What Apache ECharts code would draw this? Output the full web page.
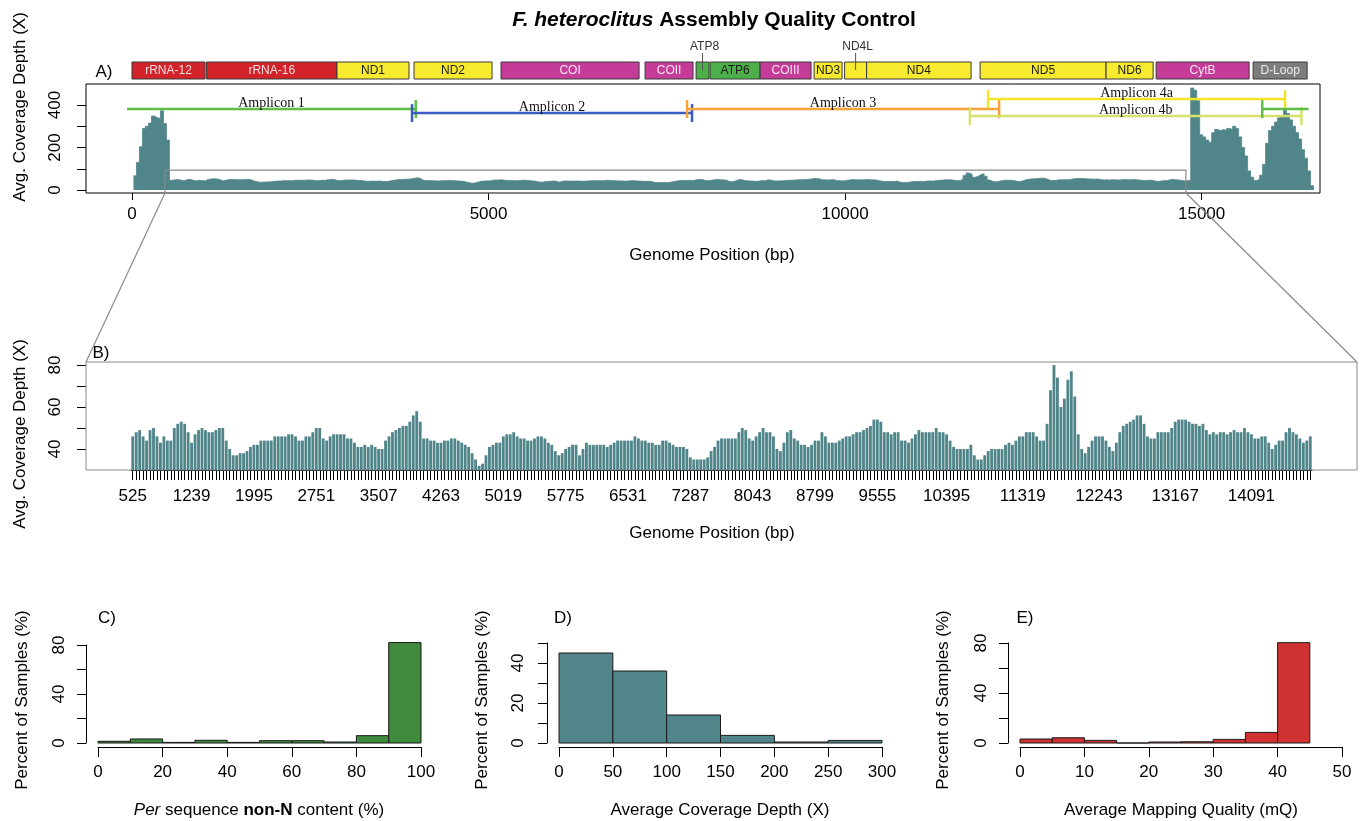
<!DOCTYPE html>
<html>
<head>
<meta charset="utf-8">
<title>F. heteroclitus Assembly Quality Control</title>
<script src="https://cdn.jsdelivr.net/npm/echarts@6/dist/echarts.min.js"></script>
<style>
  html, body { margin: 0; padding: 0; background: #fff; }
  #chart { width: 1369px; height: 821px; }
</style>
</head>
<body>
<div id="chart"></div>
<script>
// ---- gene map (bp) ----
const geneNames = ['rRNA-12', 'rRNA-16', 'ND1', 'ND2', 'COI', 'COII', 'ATP8', 'ATP6', 'COIII', 'ND3', 'ND4L', 'ND4', 'ND5', 'ND6', 'CytB', 'D-Loop']
const geneStart = [0, 1046, 2875, 3955, 5175, 7195, 7910, 8107, 8808, 9565, 9993, 10302, 11893, 13660, 14362, 15722]
const geneEnd = [1025, 2875, 3885, 5049, 7111, 7868, 8092, 8808, 9523, 9958, 10302, 11767, 13660, 14320, 15666, 16480]
const geneType = ['rRNA', 'rRNA', 'ND', 'ND', 'CO', 'CO', 'ATP', 'ATP', 'CO', 'ND', 'ND', 'ND', 'ND', 'ND', 'CO', 'DL']
const geneLabelAbove = ['ATP8', 'ND4L']

// ---- amplicons (bp, drawn at a depth level) ----
const ampliconNames = ['Amplicon 1', 'Amplicon 2', 'Amplicon 3', 'Amplicon 4a', 'Amplicon 4b', '']
const ampliconStart = [-70, 3927, 7784, 12005, 11750, 15850]
const ampliconEnd = [3980, 7854, 12160, 16170, 16400, 16500]
const ampliconLevel = [381, 362, 381, 428, 348, 381]

// ---- coverage, 42 bp bins ----
const binWidth = 42
const bFirstBin = 525
// bins before the zoomed window (panel A only)
const headCoverage = [67, 130, 204, 290, 300, 315, 348, 340, 337, 373, 313, 235]
// zoomed window, panel B (and middle of panel A)
const midCoverage = [
  46, 48, 49, 46, 44, 49, 50, 46, 43, 46,
  44, 44, 50, 52, 53, 52, 48, 43, 47, 49,
  50, 49, 48, 48, 49, 50, 50, 44, 40, 37,
  37, 38, 38, 39, 41, 42, 42, 44, 44, 44,
  44, 46, 46, 46, 46, 47, 47, 46, 44, 44,
  46, 46, 48, 50, 50, 45, 44, 46, 47, 47,
  47, 47, 45, 45, 43, 41, 41, 42, 41, 42,
  41, 40, 40, 44, 46, 48, 49, 50, 51, 51,
  53, 56, 58, 53, 45, 45, 44, 44, 43, 43,
  44, 44, 45, 45, 44, 43, 42, 41, 38, 35,
  32, 33, 37, 41, 42, 43, 43, 46, 47, 47,
  48, 46, 45, 45, 44, 44, 45, 46, 46, 45,
  43, 42, 39, 37, 38, 40, 41, 42, 42, 37,
  40, 43, 42, 42, 42, 42, 42, 41, 42, 43,
  44, 44, 44, 44, 44, 46, 45, 44, 44, 43,
  43, 42, 42, 44, 44, 43, 42, 41, 41, 41,
  40, 36, 35, 35, 35, 35, 36, 39, 41, 44,
  45, 45, 45, 45, 45, 48, 50, 49, 45, 44,
  46, 48, 50, 48, 48, 46, 40, 39, 43, 48,
  49, 45, 44, 42, 42, 41, 42, 44, 44, 48,
  46, 43, 43, 43, 44, 45, 46, 46, 47, 48,
  48, 49, 50, 51, 54, 54, 53, 48, 48, 47,
  48, 48, 44, 44, 43, 45, 47, 49, 48, 48,
  48, 48, 50, 48, 48, 47, 44, 41, 40, 40,
  40, 40, 42, 37, 35, 35, 37, 39, 40, 40,
  40, 40, 42, 43, 42, 44, 46, 46, 48, 48,
  48, 46, 44, 44, 52, 68, 80, 74, 60, 64,
  73, 77, 65, 47, 40, 38, 41, 44, 46, 46,
  46, 44, 41, 39, 43, 48, 51, 52, 53, 54,
  56, 56, 52, 46, 45, 45, 48, 48, 48, 48,
  50, 53, 54, 54, 54, 53, 52, 52, 51, 52,
  49, 47, 48, 47, 48, 48, 47, 48, 49, 48,
  48, 50, 48, 47, 45, 45, 46, 46, 43, 40,
  42, 44, 44, 48, 50, 48, 47, 45, 43, 44, 46
]
// bins after the zoomed window (panel A only)
const tailCoverage = [
  480, 470, 420, 260, 250, 235, 225, 270, 285, 280,
  285, 280, 290, 285, 300, 290, 250, 200, 160, 90,
  60, 45, 50, 70, 120, 220, 280, 300, 320, 340,
  350, 375, 360, 330, 300, 270, 240, 190, 150, 90, 20
]
const bTickLabels = [525, 1239, 1995, 2751, 3507, 4263, 5019, 5775, 6531, 7287, 8043, 8799, 9555, 10395, 11319, 12243, 13167, 14091]
const zoomWindow = [463, 14780, 94]

// ---- histograms ----
const cBins = [0, 10, 20, 30, 40, 50, 60, 70, 80, 90]
const cValues = [1.4, 3.3, 0.5, 2.2, 0.5, 1.9, 1.9, 0.8, 6, 82]
const dBins = [0, 50, 100, 150, 200, 250]
const dValues = [45, 36, 14, 3.8, 0.5, 1.3]
const eBins = [0, 5, 10, 15, 20, 25, 30, 35, 40]
const eValues = [3.2, 4.2, 2.1, 0, 0.8, 1, 2.9, 8.5, 80.3]

// ---- styles ----
const FONT = '"Liberation Sans", Arial, Helvetica, sans-serif'
const SERIF = '"Liberation Serif", "Times New Roman", serif'
const TEAL = '#508589'
const geneFill = { rRNA: '#d2232a', ND: '#f7ea2f', CO: '#c43c97', ATP: '#4daf4a', DL: '#7d7d7d' }
const geneText = { rRNA: '#f6dede', ND: '#1a1a1a', CO: '#fbe6f3', ATP: '#1a1a1a', DL: '#ececec' }
const ampColors = ['#5dbf45', '#3b5cbf', '#f6a33a', '#f2e32b', '#d6e06c', '#5dbf45']
const ampCaps = [[0, 1], [1, 1], [1, 1], [1, 1], [1, 1], [1, 0]]
const bFrame = { x: 86, y: 362, w: 1271, h: 108 }
const yAMin = -14

// build panel A step data from the bin arrays
const aCoverage = []
headCoverage.forEach((v, k) => aCoverage.push([bFirstBin - binWidth * (headCoverage.length - k), v]))
midCoverage.forEach((v, k) => aCoverage.push([bFirstBin + binWidth * k, v]))
const tailStart = bFirstBin + binWidth * midCoverage.length
tailCoverage.forEach((v, k) => aCoverage.push([tailStart + binWidth * k, v]))
aCoverage.push([tailStart + binWidth * tailCoverage.length, 0])

const bCategories = midCoverage.map((v, k) => String(bFirstBin + binWidth * k))

// histogram bars; custom series is not clipped, so the tallest bar may rise past the top tick like in R
const histItem = (width, color) => (params, api) => {
  const x0 = api.value(0)
  const p0 = api.coord([x0, api.value(1)])
  const p1 = api.coord([x0 + width, 0])
  return {
    type: 'rect',
    shape: { x: p0[0], y: p0[1], width: p1[0] - p0[0], height: p1[1] - p0[1] },
    style: { fill: color, stroke: '#1a1a1a', lineWidth: 1 }
  }
}

const tickStyle = { color: '#000', width: 1 }
const labelStyle = { color: '#000', fontSize: 17, fontFamily: FONT }
const plain = (v) => String(v)

const histY = (gridIndex, max, ticks, labels, margin) => ({
  gridIndex, type: 'value', min: 0, max, offset: 12,
  axisLine: { show: true, onZero: false, lineStyle: tickStyle },
  axisTick: { show: true, length: 9, customValues: ticks, lineStyle: tickStyle },
  axisLabel: { ...labelStyle, rotate: 90, margin, customValues: labels, formatter: plain },
  splitLine: { show: false }
})
const histX = (gridIndex, max, ticks) => ({
  gridIndex, type: 'value', min: 0, max, offset: 4,
  axisLine: { show: true, onZero: false, lineStyle: tickStyle },
  axisTick: { show: true, length: 10, customValues: ticks, lineStyle: tickStyle },
  axisLabel: { ...labelStyle, margin: 17, customValues: ticks, formatter: plain },
  splitLine: { show: false }
})

const titleText = (text, x, y, rotate, extra) => ({
  type: 'text', x, y, rotation: rotate ? Math.PI / 2 : 0,
  style: Object.assign({ text, fill: '#000', fontSize: 17, fontFamily: FONT, align: 'center', verticalAlign: 'middle' }, extra || {})
})

const chart = echarts.init(document.getElementById('chart'))

const option = {
  animation: false,
  backgroundColor: '#fff',
  grid: [
    { left: 86, top: 62, width: 1234, height: 17 },                                           // gene map
    { left: 86, top: 84, width: 1234, height: 109, show: true, borderColor: '#000', borderWidth: 1 }, // A
    { left: 131, top: 362, width: 1181, height: 108 },                                        // B
    { left: 98, top: 645, width: 323, height: 98 },                                           // C
    { left: 559, top: 643, width: 323, height: 100 },                                         // D
    { left: 1020, top: 643, width: 322, height: 100 }                                         // E
  ],
  xAxis: [
    { gridIndex: 0, type: 'value', min: -645, max: 16660, show: false },
    {
      gridIndex: 1, type: 'value', min: -645, max: 16660,
      axisLine: { show: false, onZero: false },
      axisTick: { show: true, length: 7, customValues: [0, 5000, 10000, 15000], lineStyle: tickStyle },
      axisLabel: { ...labelStyle, margin: 13, customValues: [0, 5000, 10000, 15000], formatter: plain },
      splitLine: { show: false }
    },
    {
      gridIndex: 2, type: 'category', data: bCategories, boundaryGap: true,
      axisLine: { show: true, onZero: false, lineStyle: tickStyle },
      axisTick: { show: true, length: 10, alignWithLabel: true, interval: 0, lineStyle: { color: '#000', width: 1 } },
      axisLabel: { ...labelStyle, margin: 18, interval: (idx, val) => bTickLabels.indexOf(+val) >= 0 },
      splitLine: { show: false }
    },
    histX(3, 100, [0, 20, 40, 60, 80, 100]),
    histX(4, 300, [0, 50, 100, 150, 200, 250, 300]),
    histX(5, 50, [0, 10, 20, 30, 40, 50])
  ],
  yAxis: [
    { gridIndex: 0, type: 'value', min: 0, max: 1, show: false },
    {
      gridIndex: 1, type: 'value', min: yAMin, max: 499,
      axisLine: { show: false, onZero: false },
      axisTick: { show: true, length: 9, customValues: [0, 100, 200, 300, 400], lineStyle: tickStyle },
      axisLabel: { ...labelStyle, rotate: 90, margin: 22, customValues: [0, 200, 400], formatter: plain },
      splitLine: { show: false }
    },
    {
      gridIndex: 2, type: 'value', min: 30, max: 81.43, offset: 45,
      axisLine: { show: false, onZero: false },
      axisTick: { show: true, length: 9, customValues: [40, 50, 60, 70, 80], lineStyle: tickStyle },
      axisLabel: { ...labelStyle, rotate: 90, margin: 22, customValues: [40, 60, 80], formatter: plain },
      splitLine: { show: false }
    },
    histY(3, 80, [0, 20, 40, 60, 80], [0, 40, 80], 18),
    histY(4, 50, [0, 10, 20, 30, 40, 50], [0, 20, 40], 20),
    histY(5, 80, [0, 20, 40, 60, 80], [0, 40, 80], 18)
  ],
  series: [
    {
      // gene boxes
      type: 'custom', xAxisIndex: 0, yAxisIndex: 0,
      data: geneNames.map((n, i) => [geneStart[i], geneEnd[i]]),
      encode: { x: [0, 1] },
      renderItem: (params, api) => {
        const i = params.dataIndex
        const s = api.coord([api.value(0), 1])
        const e = api.coord([api.value(1), 0])
        const t = geneType[i]
        const cx = (s[0] + e[0]) / 2
        const kids = [{
          type: 'rect',
          shape: { x: s[0], y: s[1], width: e[0] - s[0], height: e[1] - s[1] },
          style: { fill: geneFill[t], stroke: '#3a3a3a', lineWidth: 1 }
        }]
        if (geneLabelAbove.indexOf(geneNames[i]) >= 0) {
          kids.push({ type: 'line', shape: { x1: cx, y1: s[1] - 9, x2: cx, y2: s[1] + 8 }, style: { stroke: '#555', lineWidth: 1 } })
          kids.push({ type: 'text', x: cx + 2, y: s[1] - 15, style: { text: geneNames[i], fill: '#333', fontSize: 12, fontFamily: FONT, align: 'center', verticalAlign: 'middle' } })
        } else {
          kids.push({ type: 'text', x: cx, y: (s[1] + e[1]) / 2, style: { text: geneNames[i], fill: geneText[t], fontSize: 12, fontFamily: FONT, align: 'center', verticalAlign: 'middle' } })
        }
        return { type: 'group', children: kids }
      }
    },
    {
      // panel A coverage
      type: 'line', xAxisIndex: 1, yAxisIndex: 1, data: aCoverage,
      step: 'end', symbol: 'none', z: 2,
      lineStyle: { color: TEAL, width: 0.8 },
      areaStyle: { color: TEAL, opacity: 1 }
    },
    {
      // amplicons
      type: 'custom', xAxisIndex: 1, yAxisIndex: 1, z: 4,
      data: ampliconNames.map((n, i) => [ampliconStart[i], ampliconEnd[i], ampliconLevel[i]]),
      encode: { x: [0, 1], y: 2 },
      renderItem: (params, api) => {
        const i = params.dataIndex
        const a = api.coord([api.value(0), api.value(2)])
        const b = api.coord([api.value(1), api.value(2)])
        const col = ampColors[i]
        const kids = [{ type: 'line', shape: { x1: a[0], y1: a[1], x2: b[0], y2: b[1] }, style: { stroke: col, lineWidth: 2.5 } }]
        if (ampCaps[i][0]) kids.push({ type: 'line', shape: { x1: a[0], y1: a[1] - 9, x2: a[0], y2: a[1] + 9 }, style: { stroke: col, lineWidth: 2.5 } })
        if (ampCaps[i][1]) kids.push({ type: 'line', shape: { x1: b[0], y1: b[1] - 9, x2: b[0], y2: b[1] + 9 }, style: { stroke: col, lineWidth: 2.5 } })
        if (ampliconNames[i]) {
          kids.push({ type: 'text', x: (a[0] + b[0]) / 2, y: a[1] + 1, z2: 10, style: { text: ampliconNames[i], fill: '#111', fontSize: 14, fontFamily: SERIF, align: 'center', verticalAlign: 'bottom' } })
        }
        return { type: 'group', children: kids }
      }
    },
    {
      // zoom window in A and its connectors to panel B's frame
      type: 'custom', xAxisIndex: 1, yAxisIndex: 1, z: 3,
      data: [zoomWindow],
      encode: { x: [0, 1], y: 2 },
      renderItem: (params, api) => {
        const p0 = api.coord([api.value(0), api.value(2)])
        const p1 = api.coord([api.value(1), yAMin])
        const st = { stroke: '#8a8a8a', lineWidth: 1.2, fill: null }
        return {
          type: 'group',
          children: [
            { type: 'rect', shape: { x: p0[0], y: p0[1], width: p1[0] - p0[0], height: p1[1] - p0[1] }, style: st },
            { type: 'line', shape: { x1: p0[0], y1: p1[1], x2: bFrame.x, y2: bFrame.y }, style: st },
            { type: 'line', shape: { x1: p1[0], y1: p1[1], x2: bFrame.x + bFrame.w, y2: bFrame.y }, style: st }
          ]
        }
      }
    },
    {
      // panel B bars
      type: 'bar', xAxisIndex: 2, yAxisIndex: 2, data: midCoverage,
      barCategoryGap: '18%', itemStyle: { color: TEAL }
    },
    { type: 'custom', xAxisIndex: 3, yAxisIndex: 3, data: cBins.map((b, i) => [b, cValues[i]]), renderItem: histItem(10, '#3f8a3c') },
    { type: 'custom', xAxisIndex: 4, yAxisIndex: 4, data: dBins.map((b, i) => [b, dValues[i]]), renderItem: histItem(50, TEAL) },
    { type: 'custom', xAxisIndex: 5, yAxisIndex: 5, data: eBins.map((b, i) => [b, eValues[i]]), renderItem: histItem(5, '#d03232') }
  ],
  graphic: [
    { type: 'rect', id: 'bframe', shape: { x: bFrame.x, y: bFrame.y, width: bFrame.w, height: bFrame.h }, style: { fill: null, stroke: '#8a8a8a', lineWidth: 1 }, z: 1 },
    titleText('{i|F. heteroclitus} Assembly Quality Control', 714, 20, false, {
      fontSize: 21, fontWeight: 'bold',
      rich: { i: { fontStyle: 'italic', fontWeight: 'bold', fontSize: 21, fontFamily: FONT } }
    }),
    titleText('A)', 104, 72), titleText('B)', 101, 353),
    titleText('C)', 107, 618), titleText('D)', 563, 618), titleText('E)', 1025, 618),
    titleText('Avg. Coverage Depth (X)', 20, 107, true),
    titleText('Avg. Coverage Depth (X)', 20, 434, true),
    titleText('Genome Position (bp)', 712, 255),
    titleText('Genome Position (bp)', 712, 533),
    titleText('Percent of Samples (%)', 22, 700, true),
    titleText('Percent of Samples (%)', 482, 700, true),
    titleText('Percent of Samples (%)', 943, 700, true),
    titleText('{i|Per} sequence {b|non-N} content (%)', 259, 810, false, {
      rich: { i: { fontStyle: 'italic', fontSize: 17, fontFamily: FONT }, b: { fontWeight: 'bold', fontSize: 17, fontFamily: FONT } }
    }),
    titleText('Average Coverage Depth (X)', 720, 810),
    titleText('Average Mapping Quality (mQ)', 1181, 810)
  ]
}

chart.setOption(option)
window.addEventListener('resize', () => chart.resize())
</script>
</body>
</html>
